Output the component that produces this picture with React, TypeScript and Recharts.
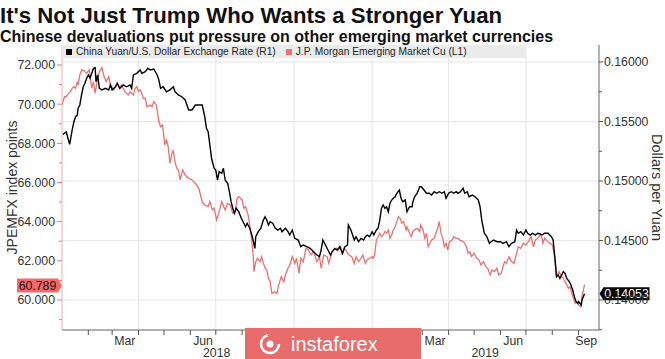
import React from 'react';
import { LineChart, Line, XAxis, YAxis, CartesianGrid, ReferenceLine, Legend } from 'recharts';

const FONT = '"Liberation Sans", Arial, Helvetica, sans-serif';

// x values are days since 2018-01-01
const cnyRate: [number, number][] = [
  [1, 0.15392], [5, 0.15412], [9, 0.15308], [12, 0.15429], [14, 0.15498], [16, 0.1554], [18, 0.15555], [19, 0.15611],
  [21, 0.15639], [23, 0.15723], [25, 0.15792], [27, 0.15821], [29, 0.15863], [31, 0.15891], [33, 0.15863], [35, 0.15905],
  [37, 0.15947], [39, 0.15952], [40, 0.15834], [42, 0.15891], [44, 0.15779], [47, 0.15765], [51, 0.15779], [55, 0.15765],
  [57, 0.15807], [59, 0.15765], [63, 0.15792], [65, 0.15821], [68, 0.15779], [72, 0.15807], [76, 0.15792], [80, 0.15807],
  [82, 0.15779], [84, 0.15891], [88, 0.15905], [92, 0.15933], [94, 0.15905], [98, 0.15919], [101, 0.15947], [104, 0.15933],
  [108, 0.15941], [112, 0.15891], [114, 0.15849], [116, 0.15779], [119, 0.15792], [123, 0.1575], [127, 0.15765], [131, 0.15792],
  [133, 0.1575], [137, 0.15723], [141, 0.15708], [145, 0.15681], [149, 0.15597], [153, 0.15597], [157, 0.15639], [161, 0.15639],
  [165, 0.15639], [168, 0.1554], [170, 0.15443], [172, 0.15414], [174, 0.15303], [176, 0.15191], [179, 0.15107], [181, 0.15092],
  [183, 0.15008], [185, 0.15078], [188, 0.15065], [190, 0.15107], [192, 0.15008], [195, 0.14981], [197, 0.1491], [199, 0.14826],
  [201, 0.14771], [203, 0.14729], [205, 0.14771], [208, 0.14742], [211, 0.14687], [214, 0.14645], [216, 0.14616], [218, 0.14645],
  [219, 0.1463], [221, 0.14603], [224, 0.14532], [227, 0.14434], [228, 0.14532], [231, 0.14574], [234, 0.14603], [237, 0.14672],
  [239, 0.147], [241, 0.14672], [243, 0.1463], [245, 0.14658], [248, 0.14645], [251, 0.14603], [254, 0.14588], [257, 0.14603],
  [259, 0.14574], [263, 0.14603], [266, 0.14574], [268, 0.14546], [271, 0.14588], [274, 0.14518], [278, 0.14504], [281, 0.14448],
  [284, 0.14462], [288, 0.14448], [292, 0.14434], [296, 0.14406], [300, 0.14378], [303, 0.14364], [305, 0.1442], [307, 0.14504],
  [310, 0.14462], [313, 0.1442], [316, 0.14378], [318, 0.14406], [321, 0.14434], [324, 0.1442], [327, 0.14448], [330, 0.14392],
  [333, 0.14448], [336, 0.14462], [337, 0.1463], [340, 0.14588], [342, 0.14546], [344, 0.14504], [346, 0.14532], [349, 0.1449],
  [352, 0.14518], [355, 0.14504], [357, 0.14532], [359, 0.14546], [362, 0.14532], [365, 0.14574], [367, 0.14546], [370, 0.14588],
  [372, 0.14603], [374, 0.14672], [376, 0.14771], [378, 0.14798], [380, 0.14771], [382, 0.14784], [384, 0.14742], [386, 0.14813],
  [388, 0.1484], [390, 0.14855], [392, 0.14868], [394, 0.14897], [397, 0.14924], [399, 0.14855], [401, 0.14826], [404, 0.1484],
  [406, 0.14742], [409, 0.14784], [412, 0.14784], [413, 0.14826], [415, 0.14868], [418, 0.14897], [421, 0.14952], [423, 0.14952],
  [426, 0.14924], [429, 0.14897], [432, 0.14897], [435, 0.14882], [438, 0.1491], [441, 0.14897], [444, 0.1491], [447, 0.14897],
  [450, 0.1491], [452, 0.14855], [455, 0.14897], [458, 0.1491], [461, 0.14897], [464, 0.1491], [466, 0.14897], [469, 0.1491],
  [472, 0.14939], [474, 0.14897], [477, 0.1491], [479, 0.14868], [483, 0.14882], [486, 0.14868], [490, 0.1484], [492, 0.14784],
  [494, 0.14672], [497, 0.14561], [500, 0.14532], [503, 0.14476], [505, 0.1449], [508, 0.14504], [512, 0.1449], [516, 0.1449],
  [519, 0.14476], [523, 0.1449], [526, 0.14448], [529, 0.14476], [533, 0.1449], [535, 0.14588], [537, 0.14561], [540, 0.14574],
  [543, 0.14546], [546, 0.14588], [548, 0.14561], [551, 0.14546], [554, 0.14561], [557, 0.14546], [560, 0.14561], [563, 0.14555],
  [565, 0.14546], [568, 0.14561], [572, 0.14561], [574, 0.14546], [576, 0.14532], [578, 0.14504], [580, 0.14364], [582, 0.14196],
  [584, 0.1421], [586, 0.14182], [588, 0.1421], [590, 0.14238], [592, 0.14224], [594, 0.14182], [597, 0.14154], [599, 0.14126],
  [601, 0.14084], [603, 0.14028], [605, 0.13986], [607, 0.13972], [608, 0.13986], [611, 0.13958], [612, 0.14], [615, 0.14053],
];

const emIndex: [number, number][] = [
  [0, 69.96], [3, 70.38], [5, 70.38], [8, 70.56], [10, 70.64], [12, 70.81], [14, 70.89], [16, 70.81],
  [18, 71.15], [19, 70.98], [21, 71.49], [23, 71.75], [26, 71.7], [29, 71.58], [32, 71.75], [35, 70.81],
  [37, 71.15], [39, 70.56], [42, 71.32], [44, 71.66], [47, 71.86], [49, 71.49], [52, 71.15], [55, 71.4],
  [57, 70.98], [61, 70.73], [65, 71.07], [68, 70.81], [70, 70.98], [74, 70.64], [78, 70.47], [80, 70.64],
  [84, 70.47], [86, 70.81], [88, 70.89], [90, 70.64], [92, 70.73], [96, 70.3], [98, 70.3], [100, 69.87],
  [104, 69.96], [106, 69.87], [108, 70.13], [111, 69.96], [114, 69.11], [116, 68.85], [118, 68.94], [119, 68.68],
  [121, 67.92], [123, 68.17], [125, 67.83], [127, 66.98], [129, 67.41], [131, 67.66], [133, 67.06], [135, 66.73],
  [137, 66.64], [139, 66.13], [142, 66.64], [145, 66.38], [149, 66.22], [153, 66.13], [157, 65.96], [161, 65.7],
  [163, 65.36], [165, 65.02], [168, 64.85], [172, 64.77], [174, 65.02], [177, 64.6], [179, 64.68], [182, 64.09],
  [185, 64.51], [188, 65.02], [192, 64.6], [195, 64.94], [198, 64.85], [201, 64.43], [204, 64.51], [206, 65.19],
  [208, 65.28], [212, 65.11], [214, 64.68], [216, 64.77], [219, 64.34], [221, 63.83], [223, 63.15], [225, 62.3],
  [226, 61.45], [228, 61.96], [230, 62.13], [233, 61.96], [235, 62.21], [237, 61.87], [239, 61.62], [241, 61.53],
  [243, 61.11], [245, 60.93], [247, 60.34], [250, 60.42], [253, 60.34], [255, 60.77], [258, 61.19], [261, 60.93],
  [263, 61.28], [266, 61.62], [268, 61.79], [271, 62.21], [274, 61.87], [276, 62.13], [279, 61.36], [281, 62.13],
  [284, 61.96], [287, 62.64], [290, 62.55], [293, 62.3], [296, 62.47], [300, 61.96], [303, 62.21], [305, 61.62],
  [308, 62.3], [312, 62.21], [314, 61.87], [318, 62.47], [320, 62.55], [323, 62.64], [325, 62.55], [328, 62.72],
  [330, 62.3], [332, 62.64], [334, 62.55], [336, 62.39], [338, 62.3], [341, 62.21], [344, 61.87], [346, 62.21],
  [349, 61.96], [352, 62.13], [354, 62.3], [357, 61.87], [359, 62.04], [362, 62.13], [365, 62.21], [366, 62.13],
  [368, 62.3], [370, 63.06], [372, 63.23], [374, 63.41], [376, 63.23], [378, 63.32], [380, 63.49], [382, 63.41],
  [384, 63.58], [386, 63.15], [388, 63.32], [390, 63.58], [392, 63.74], [394, 64.0], [396, 64.25], [398, 64.17],
  [400, 63.92], [402, 64.0], [405, 63.58], [406, 63.74], [409, 63.41], [411, 63.23], [413, 63.49], [415, 63.58],
  [418, 63.66], [421, 63.49], [422, 63.83], [425, 63.58], [427, 63.15], [429, 63.41], [431, 62.72], [433, 62.9],
  [435, 63.06], [438, 63.15], [440, 63.41], [442, 63.66], [444, 64.0], [446, 63.41], [448, 63.15], [450, 62.72],
  [452, 62.9], [454, 62.55], [456, 62.98], [459, 63.06], [461, 63.23], [464, 63.15], [466, 63.15], [468, 63.06],
  [472, 62.98], [474, 62.9], [476, 62.72], [478, 62.39], [480, 62.47], [482, 62.21], [485, 62.39], [488, 62.13],
  [491, 62.04], [493, 61.79], [496, 61.96], [499, 61.7], [501, 61.62], [504, 61.28], [506, 61.53], [509, 61.45],
  [512, 61.62], [514, 61.28], [517, 61.36], [519, 61.7], [521, 61.96], [523, 61.87], [526, 62.21], [529, 61.96],
  [532, 61.87], [534, 62.21], [537, 62.72], [540, 62.64], [543, 62.9], [546, 62.81], [549, 62.98], [552, 63.23],
  [555, 62.72], [557, 63.06], [560, 63.15], [563, 63.32], [565, 63.15], [566, 62.9], [568, 63.15], [572, 62.98],
  [574, 62.9], [577, 62.81], [579, 62.39], [581, 61.7], [582, 61.19], [585, 61.45], [587, 61.28], [590, 61.11],
  [592, 60.93], [594, 60.77], [596, 60.6], [598, 60.68], [600, 60.34], [602, 60.09], [604, 59.83], [606, 59.91],
  [608, 59.74], [611, 59.66], [612, 60.17], [615, 60.789],
];

const monthStartDays = [31, 59, 90, 120, 151, 181, 212, 243, 273, 304, 334, 365, 396, 424, 455, 485, 516, 546, 577, 608];
// labels visible in the reference (Sep/Dec 2018 are hidden beneath the watermark)
const monthLabelDays = [74, 166, 439, 531, 617];
const monthLabels = ['Mar', 'Jun', 'Mar', 'Jun', 'Sep'];
const yearLabelDays = [182, 498];
const yearLabels = ['2018', '2019'];
const quarterGridDays = [90, 181, 273, 365, 455, 546];

const leftTicks = [59, 60, 61, 62, 63, 64, 65, 66, 67, 68, 69, 70, 71, 72];
const rightTicks = [0.1375, 0.14, 0.1425, 0.145, 0.1475, 0.15, 0.1525, 0.155, 0.1575, 0.16];
const rightGridValues = [0.14, 0.145, 0.15, 0.155, 0.16];

const lastEm = 60.789;
const lastCny = 0.14053;

const seriesNames = ['China Yuan/U.S. Dollar Exchange Rate (R1)', 'J.P. Morgan Emerging Market Cu (L1)'];
const title = "It's Not Just Trump Who Wants a Stronger Yuan";
const subtitle = 'Chinese devaluations put pressure on other emerging market currencies';

const BLACK = '#000000';
const RED = '#ef7070';

const cnyData = cnyRate.map(([d, v]) => ({ d, v }));
const emData = emIndex.map(([d, v]) => ({ d, v }));
const xTicks = [...monthStartDays, ...monthLabelDays, ...yearLabelDays].sort((a, b) => a - b);

const LeftTick = (props: any) => {
  const { x, y, payload } = props;
  const v = payload.value as number;
  const major = Math.round(v) % 2 === 0;
  const axisX = x + 7;
  return (
    <g>
      <line x1={axisX} x2={axisX - (major ? 5 : 3)} y1={y} y2={y} stroke="#ee7a7a" strokeWidth={1} />
      {major && (
        <text x={x} y={y} dy={4.4} textAnchor="end" fontSize={12.3} fill="#333" fontFamily={FONT}>
          {v.toFixed(3)}
        </text>
      )}
    </g>
  );
};

const RightTick = (props: any) => {
  const { x, y, payload } = props;
  const v = payload.value as number;
  const major = Math.abs(v * 200 - Math.round(v * 200)) < 1e-6;
  const axisX = x - 5;
  return (
    <g>
      <line x1={axisX} x2={axisX + (major ? 4 : 3)} y1={y} y2={y} stroke="#555" strokeWidth={1} />
      {major && (
        <text x={x} y={y} dy={4.4} textAnchor="start" fontSize={12.3} fill="#333" fontFamily={FONT}>
          {v.toFixed(5)}
        </text>
      )}
    </g>
  );
};

const XTick = (props: any) => {
  const { x, y, payload } = props;
  const v = payload.value as number;
  const mi = monthLabelDays.indexOf(v);
  const yi = yearLabelDays.indexOf(v);
  if (mi >= 0) {
    return (
      <text x={x} y={y + 15} textAnchor="middle" fontSize={12.3} fill="#333" fontFamily={FONT}>
        {monthLabels[mi]}
      </text>
    );
  }
  if (yi >= 0) {
    return (
      <text x={x} y={y + 27} textAnchor="middle" fontSize={12.3} fill="#333" fontFamily={FONT}>
        {yearLabels[yi]}
      </text>
    );
  }
  return <line x1={x} x2={x} y1={y} y2={y + 5} stroke="#555" strokeWidth={1} />;
};

const EmBadge = (props: any) => {
  const vb = props.viewBox;
  const tip = vb.x;
  const y = vb.y + 1;
  const x0 = tip - 45;
  const x1 = tip - 4;
  return (
    <g>
      <path d={`M${x0},${y - 7} L${x1},${y - 7} L${tip},${y} L${x1},${y + 7} L${x0},${y + 7} Z`} fill="#ef6b6b" />
      <text x={(x0 + x1) / 2} y={y} dy={4.4} textAnchor="middle" fontSize={12.3} fill="#2a0a0a" fontFamily={FONT}>
        {lastEm.toFixed(3)}
      </text>
    </g>
  );
};

const CnyBadge = (props: any) => {
  const vb = props.viewBox;
  const tip = vb.x + vb.width + 0.5;
  const y = vb.y;
  const x1 = tip + 4;
  const x2 = tip + 50;
  return (
    <g>
      <path d={`M${tip},${y} L${x1},${y - 6.5} L${x2},${y - 6.5} L${x2},${y + 6.5} L${x1},${y + 6.5} Z`} fill="#000" />
      <text x={(x1 + x2) / 2} y={y} dy={4.4} textAnchor="middle" fontSize={12.3} fill="#fff" fontFamily={FONT}>
        {lastCny.toFixed(5)}
      </text>
    </g>
  );
};

const LeftTitle = (props: any) => {
  const vb = props.viewBox;
  const cx = vb.x + 12;
  const cy = vb.y + vb.height / 2;
  return (
    <text x={cx} y={cy} transform={`rotate(-90 ${cx} ${cy})`} textAnchor="middle" dominantBaseline="central" fontSize={14} fill="#333" fontFamily={FONT}>
      JPEMFX index points
    </text>
  );
};

const RightTitle = (props: any) => {
  const vb = props.viewBox;
  const cx = vb.x + 58;
  const cy = vb.y + vb.height / 2;
  return (
    <text x={cx} y={cy} transform={`rotate(90 ${cx} ${cy})`} textAnchor="middle" dominantBaseline="central" fontSize={14.5} fill="#333" fontFamily={FONT}>
      Dollars per Yuan
    </text>
  );
};

const renderLegend = (props: any) => {
  const payload = props.payload || [];
  return (
    <div
      style={{
        display: 'flex',
        alignItems: 'center',
        height: 13,
        background: '#ebebeb',
        paddingLeft: 4,
        fontFamily: FONT,
        fontSize: 10.2,
        color: '#222',
        whiteSpace: 'nowrap',
        boxSizing: 'border-box',
      }}
    >
      {payload.map((p: any, i: number) => (
        <span key={i} style={{ display: 'flex', alignItems: 'center', marginRight: 10 }}>
          <span style={{ display: 'inline-block', width: 6, height: 6, background: p.color, marginRight: 4 }} />
          <span>{p.value}</span>
        </span>
      ))}
    </div>
  );
};

export default function App() {
  return (
    <div style={{ position: 'absolute', left: 0, top: 0, width: 665, height: 359, background: '#fff', overflow: 'hidden' }}>
      <LineChart width={665} height={359} margin={{ top: 45, right: 0, bottom: 0, left: 0 }}>
        <CartesianGrid
          xAxisId="x"
          yAxisId="right"
          stroke="#e6e6e6"
          horizontalValues={rightGridValues}
          verticalValues={quarterGridDays}
        />
        <XAxis
          xAxisId="x"
          type="number"
          dataKey="d"
          domain={[0, 632]}
          allowDataOverflow
          ticks={xTicks}
          interval={0}
          tick={XTick}
          tickLine={false}
          tickSize={0}
          tickMargin={0}
          height={29}
          axisLine={{ stroke: '#666' }}
        />
        <YAxis
          yAxisId="left"
          orientation="left"
          width={62}
          domain={[58.468, 73.02]}
          allowDataOverflow
          ticks={leftTicks}
          interval={0}
          tick={LeftTick}
          tickLine={false}
          tickSize={5}
          tickMargin={2}
          axisLine={{ stroke: '#f2b0b0' }}
          label={LeftTitle}
        />
        <YAxis
          yAxisId="right"
          orientation="right"
          width={66}
          domain={[0.137479, 0.161429]}
          allowDataOverflow
          ticks={rightTicks}
          interval={0}
          tick={RightTick}
          tickLine={false}
          tickSize={4}
          tickMargin={1}
          axisLine={{ stroke: '#666' }}
          label={RightTitle}
        />
        <Legend
          verticalAlign="middle"
          layout="horizontal"
          align="center"
          content={renderLegend}
          wrapperStyle={{ top: 45, left: 62, width: 464, height: 13 }}
        />
        <Line
          name={seriesNames[1]}
          data={emData}
          dataKey="v"
          xAxisId="x"
          yAxisId="left"
          stroke={RED}
          strokeWidth={1.3}
          dot={false}
          activeDot={false}
          isAnimationActive={false}
          legendType="square"
        />
        <Line
          name={seriesNames[0]}
          data={cnyData}
          dataKey="v"
          xAxisId="x"
          yAxisId="right"
          stroke={BLACK}
          strokeWidth={1.4}
          dot={false}
          activeDot={false}
          isAnimationActive={false}
          legendType="square"
        />
        <ReferenceLine xAxisId="x" yAxisId="left" y={lastEm} stroke="none" label={EmBadge} />
        <ReferenceLine xAxisId="x" yAxisId="right" y={lastCny} stroke="none" label={CnyBadge} />
      </LineChart>
      <svg width={665} height={359} style={{ position: 'absolute', left: 0, top: 0, pointerEvents: 'none' }}>
        <text x={0} y={23} fontSize={22.2} fontWeight="bold" fill="#111" fontFamily={FONT}>{title}</text>
        <text x={0} y={42} fontSize={16} fontWeight="bold" fill="#111" fontFamily={FONT}>{subtitle}</text>
        <rect x={245} y={328} width={176} height={31} fill="#e86c6c" />
        <circle cx={270} cy={344} r={9} fill="none" stroke="#fff" strokeWidth={2.5} strokeDasharray="40 17" />
        <circle cx={270} cy={344} r={3.5} fill="#fff" />
        <text x={291} y={351} fontSize={20} fill="#fff" fontFamily={FONT}>instaforex</text>
      </svg>
    </div>
  );
}
